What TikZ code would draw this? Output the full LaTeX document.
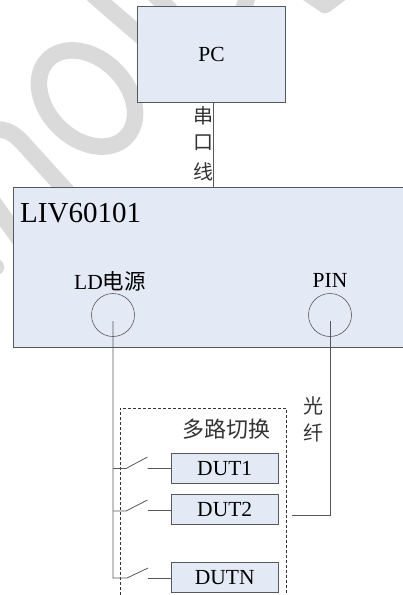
\documentclass[tikz,border=0pt]{standalone}
\usepackage{fontspec}
\setmainfont{Liberation Serif}
\newfontfamily\cjk{Noto Sans CJK SC}
\definecolor{boxfill}{HTML}{E4EAF5}
\definecolor{edge}{HTML}{55585C}
\definecolor{wm}{HTML}{DADADA}
\tikzset{
  x=1pt,y=-1pt,
  box/.style={draw=edge,fill=boxfill,line width=0.9pt,inner sep=0pt,anchor=north west},
  wire/.style={draw=edge,line width=0.8pt},
  port/.style={circle,draw=edge,line width=0.6pt,minimum size=43pt,inner sep=0pt},
  lab/.style={inner sep=0pt,text=black,font=\fontsize{21.5}{24}\selectfont},
  cjklab/.style={inner sep=0pt,text=black!80,font=\cjk\fontsize{20}{24}\selectfont},
  mark band/.style={draw=wm,line width=16.5pt,line cap=round,line join=round}
}
\begin{document}
\begin{tikzpicture}
\useasboundingbox (0,0) rectangle (403,595);
% watermark
\draw[mark band,rotate around={45:(87,98.5)}] (87,98.5) ellipse (40 and 55);
\draw[mark band] (99,0) -- (88,-10) (99,0) -- (150,44);
\draw[mark band] (-12,128) -- (3,130) .. controls (10,131) and (16,136) .. (22,142) -- (70,195);
\draw[mark band] (-10,198) -- (20,240);
\draw[mark band] (-20,255) -- (-4,267);
\draw[mark band] (150,-10) -- (170,10);
\draw[mark band] (250,-10) -- (243,10);
\draw[mark band] (303,-10) -- (325,5) -- (345,-10);
% boxes
\node[box,minimum width=148pt,minimum height=96pt] (pc) at (137,6) {};
\node[lab] at (pc.center) {PC};
\node[box,minimum width=400pt,minimum height=160pt] (liv) at (12.5,187) {};
\node[lab,font=\fontsize{29}{32}\selectfont,anchor=west] (livt) at (20,213) {LIV60101};
\node[port] (ld) at (113,315) {};
\node[port] (pin) at (330,315) {};
\node[lab] (ldt) at (110,281) {LD{\cjk 电源}};
\node[lab] (pint) at (330,280) {PIN};
\coordinate (ldc) at (113,321);
\coordinate (pinc) at (330,321);
\coordinate (pcb) at (213.5,102);
\coordinate (livt2) at (213.5,187);
\draw[wire] (pcb) -- (livt2);
\node[cjklab] (s1) at (203,116) {串};
\node[cjklab] (s2) at (203,143) {口};
\node[cjklab] (s3) at (203,172) {线};
% dashed
\draw[line width=0.7pt,draw=black!80,dash pattern=on 3pt off 2pt] (120,595) -- (120,408) -- (286,408) -- (286,595);
\node[cjklab,font=\cjk\fontsize{22}{24}\selectfont] (mux) at (226,429) {多路切换};
\node[cjklab] (g1) at (313,406) {光};
\node[cjklab] (g2) at (313,433) {纤};
\node[box,minimum width=106.5pt,minimum height=30pt] (d1) at (171,453) {};
\node[box,minimum width=106.5pt,minimum height=30pt] (d2) at (171,494) {};
\node[box,minimum width=106.5pt,minimum height=30pt] (dn) at (171,562) {};
\node[lab] at (d1.center) {DUT1};
\node[lab] at (d2.center) {DUT2};
\node[lab] at (dn.center) {DUTN};
% wires
\coordinate (b1) at (113,468.5);
\coordinate (b2) at (113,511);
\coordinate (b3) at (113,578);
\draw[wire] (ldc) -- (b3) -- (127,578) -- (148,568);
\draw[wire] (b1) -- (126,468.5) -- (147.5,457);
\draw[wire] (b2) -- (126,511) -- (147.5,500);
\draw[wire] (147.5,468.5) -- (d1.west);
\draw[wire] (147.5,510) -- (171,510);
\draw[wire] (147.5,578) -- (171,578);
\coordinate (pe) at (292,515);
\draw[wire] (pinc) -- (330,515) -- (pe);
\end{tikzpicture}
\end{document}
